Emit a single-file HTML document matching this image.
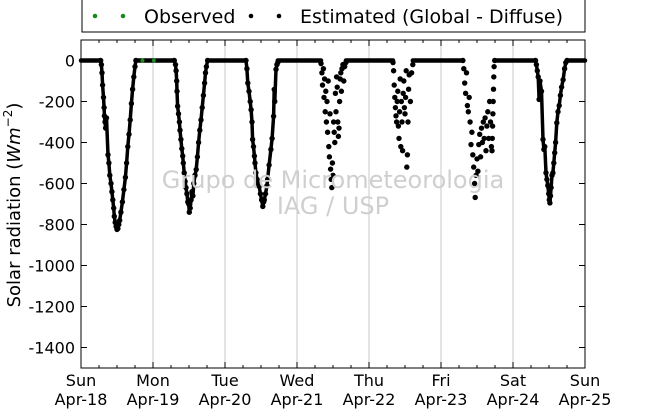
<!DOCTYPE html>
<html><head><meta charset="utf-8"><style>
body{margin:0;background:#fff;}
svg{display:block;font-family:"DejaVu Sans","Liberation Sans",sans-serif;}
</style></head><body>
<svg id="chart" width="650" height="409" viewBox="0 0 650 409" xmlns="http://www.w3.org/2000/svg">
<rect x="0" y="0" width="650" height="409" fill="#fff"/>
<g id="legend">
<rect x="82" y="-5" width="503" height="37" fill="#fff" stroke="#000" stroke-width="1"/>
<g>
<circle cx="95" cy="16" r="2.3" fill="#1a8a1a"/><circle cx="123" cy="16" r="2.3" fill="#1a8a1a"/>
<text x="144" y="23" font-size="19">Observed</text></g>
<g>
<circle cx="251" cy="16" r="2.3" fill="#000"/><circle cx="279" cy="16" r="2.3" fill="#000"/>
<text x="300" y="23" font-size="19">Estimated (Global - Diffuse)</text></g>
</g>
<g id="grid"></g>
<g id="marks"></g>
<g fill="#cfcfcf" font-size="24" text-anchor="middle">
<text x="333" y="188">Grupo de Micrometeorologia</text>
<text x="333" y="214">IAG / USP</text></g>
<rect x="81" y="40" width="504" height="328" fill="none" stroke="#000" stroke-width="1"/>
<g id="axes"></g>
<text transform="translate(20,205) rotate(-90)" text-anchor="middle" font-size="18">Solar radiation (<tspan font-style="italic">Wm</tspan><tspan font-size="12" dy="-8">−2</tspan><tspan dy="8">)</tspan></text>
</svg>
<script>
const yTicks=[0,-200,-400,-600,-800,-1000,-1200,-1400];
const dayNames=["Sun","Mon","Tue","Wed","Thu","Fri","Sat","Sun"];
const dayDates=["Apr-18","Apr-19","Apr-20","Apr-21","Apr-22","Apr-23","Apr-24","Apr-25"];
const estHours=[6.5,6.8,7.0,7.2,7.5,7.7,7.8,8.0,8.2,8.5,9.0,9.3,9.6,10.0,10.3,10.6,10.9,11.1,11.4,11.7,12.0,12.3,12.6,12.9,13.3,13.8,14.3,14.8,15.2,15.6,16.0,16.4,16.8,17.2,17.6,18.0,18.3,
31.1,31.5,31.7,31.9,32.0,32.2,32.5,32.8,33.0,33.3,33.6,33.9,34.1,34.4,34.7,35.0,35.3,35.6,35.9,36.1,36.4,36.7,37.0,37.3,37.6,38.0,38.4,38.8,39.2,39.6,40.0,40.4,40.8,41.2,41.5,41.8,42.2,
55,55.3,55.6,56.0,56.4,56.7,57.0,57.2,57.5,57.8,58.0,58.3,58.7,59.0,59.4,59.8,60.2,60.6,60.9,61.1,61.5,62.0,62.2,62.7,63.3,63.7,64.2,64.4,64.6,65.0,65.3,65.6,
80,80.3,80.5,80.8,81,81.2,81.4,81.6,81.8,82,82.2,82.4,82.6,82.8,83,83.2,83.4,83.6,83.8,84.0,84.2,84.4,84.6,84.8,85,85.2,85.4,85.6,85.8,86,86.2,86.4,86.6,86.8,87,87.3,87.6,87.9,88.3,
104,104.2,104.4,104.6,104.8,105,105.2,105.4,105.6,105.8,106,106.2,106.4,106.6,106.8,107,107.2,107.4,107.6,107.8,108,108.2,108.4,108.6,108.8,109,109.2,109.4,109.8,110.2,110.6,
127.3,127.6,127.9,128.2,128.5,128.8,129.1,129.4,129.7,130,130.3,130.6,130.9,131.2,131.4,131.7,132,132.3,132.6,132.9,133.2,133.5,133.8,134.1,134.4,134.7,135,135.3,135.6,135.9,136.2,136.5,136.8,137,137.1,137.2,137.3,137.4,137.5,137.6,137.7,137.9,
151.5,151.8,152.1,152.4,152.7,153,153.5,154,154.3,154.6,155,155.3,155.6,155.9,156.1,156.3,156.5,156.7,157,157.3,157.6,157.9,158.2,158.6,159,159.4,159.8,160.2,160.7,161.2,161.6,162];
const estValues=[0,-20,-60,-120,-180,-230,-270,-300,-330,-280,-460,-500,-560,-600,-640,-680,-720,-760,-790,-810,-824,-820,-800,-780,-740,-690,-630,-570,-500,-420,-360,-290,-210,-140,-80,-30,0,
0,-20,-50,-100,-150,-223,-260,-300,-340,-385,-430,-466,-500,-548,-590,-620,-650,-690,-700,-740,-720,-680,-640,-660,-600,-560,-532,-470,-400,-340,-290,-230,-170,-110,-60,-30,0,
0,-40,-110,-150,-200,-240,-300,-385,-420,-466,-500,-548,-580,-600,-614,-650,-680,-712,-690,-680,-650,-610,-580,-510,-434,-380,-272,-141,-200,-43,-20,-10,
-15,-60,-120,-40,-180,-90,-250,-150,-300,-200,-350,-100,-420,-470,-260,-530,-580,-620,-500,-560,-300,-350,-400,-160,-250,-80,-130,-300,-370,-330,-200,-90,-60,-150,-40,-20,-100,-30,-10,
-10,-50,-120,-180,-230,-270,-300,-200,-150,-320,-380,-250,-90,-420,-200,-300,-440,-160,-100,-230,-260,-180,-50,-520,-460,-300,-140,-70,-200,-60,-20,
0,-40,-110,-160,-60,-220,-250,-180,-300,-410,-350,-460,-520,-600,-668,-560,-480,-540,-410,-360,-470,-330,-400,-300,-380,-280,-440,-320,-250,-380,-200,-300,-420,-440,-380,-320,-260,-200,-140,-80,-30,0,
0,-20,-50,-80,-190,-100,-150,-385,-434,-420,-548,-580,-610,-650,-680,-695,-660,-620,-560,-548,-500,-450,-400,-304,-250,-220,-170,-130,-94,-40,-10,0];
const nightStart=[0,18.3,42.2,65.6,88.3,110.6,137.9,162];
const nightEnd=[6.7,31.1,55,80,104,127.3,151.5,168];
const clearDays=[0,1,2,6];
const obsHours=[20.5,24.3];
const obsValues=[0,0];

const X0=81,X1=585,Y0=40,Y1=368,TMIN=0,TMAX=168,VMIN=-1500,VMAX=100;
const xs=t=>X0+(t-TMIN)/(TMAX-TMIN)*(X1-X0);
const ys=v=>Y1-(v-VMIN)/(VMAX-VMIN)*(Y1-Y0);
const NS="http://www.w3.org/2000/svg";
function mk(tag,attrs,parent){const e=document.createElementNS(NS,tag);for(const k in attrs)e.setAttribute(k,attrs[k]);parent.appendChild(e);return e;}
const grid=document.getElementById('grid'),marks=document.getElementById('marks'),axes=document.getElementById('axes');
for(let d=1;d<7;d++){const l=mk('line',{x1:xs(d*24),x2:xs(d*24),y1:Y0,y2:Y1,stroke:'#c8c8c8','stroke-width':1},grid);

}
for(let i=0;i<nightStart.length;i++){
 const b=mk('line',{x1:xs(nightStart[i]),x2:xs(nightEnd[i]),y1:ys(0),y2:ys(0),stroke:'#000','stroke-width':4.5,'stroke-linecap':'round'},marks);
 
 
}
// dense walls on clear-sky days: connect consecutive samples
for(let i=1;i<estHours.length;i++){
 const d=Math.floor(estHours[i]/24);
 if(!clearDays.includes(d)||Math.floor(estHours[i-1]/24)!==d||estHours[i]-estHours[i-1]>0.7)continue;
 const s=mk('line',{x1:xs(estHours[i-1]),y1:ys(estValues[i-1]),x2:xs(estHours[i]),y2:ys(estValues[i]),stroke:'#000','stroke-width':3.5,'stroke-linecap':'round'},marks);
 
 
}
for(let i=0;i<estHours.length;i++){const c=mk('circle',{cx:xs(estHours[i]),cy:ys(estValues[i]),r:2.7,fill:'#000'},marks);

}
for(let i=0;i<obsHours.length;i++){const c=mk('circle',{cx:xs(obsHours[i]),cy:ys(obsValues[i]),r:2,fill:'#1a8a1a'},marks);

}
yTicks.forEach(v=>{const y=ys(v);
 mk('line',{x1:X0,x2:X0+6,y1:y,y2:y,stroke:'#000'},axes);mk('line',{x1:X1-6,x2:X1,y1:y,y2:y,stroke:'#000'},axes);
 const t=mk('text',{x:X0-6,y:y+6,'text-anchor':'end','font-size':16},axes);t.textContent=v;
 
 });
for(let h=0;h<=168;h+=6){const x=xs(h);const L=h%24===0?6:3;
 mk('line',{x1:x,x2:x,y1:Y1,y2:Y1-L,stroke:'#000'},axes);mk('line',{x1:x,x2:x,y1:Y0,y2:Y0+L,stroke:'#000'},axes);}
dayNames.forEach((n,i)=>{const x=xs(i*24);
 const t=mk('text',{x:x,y:386,'text-anchor':'middle','font-size':16},axes);t.textContent=n;
 
 
 const t2=mk('text',{x:x,y:405,'text-anchor':'middle','font-size':16},axes);t2.textContent=dayDates[i];
 
 });
</script>
</body></html>
